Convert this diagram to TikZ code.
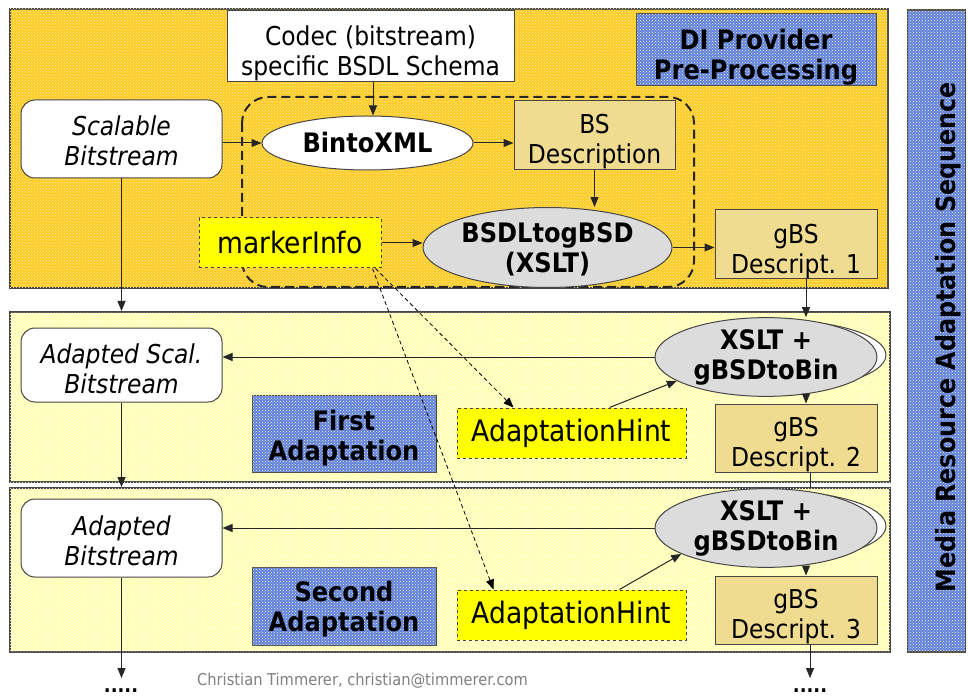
\documentclass[tikz,border=0pt]{standalone}
\usepackage{fontspec}
\setmainfont{DejaVu Sans Condensed}
\usetikzlibrary{shapes.geometric,arrows.meta,calc,patterns}
\definecolor{gold}{RGB}{252,204,40}
\definecolor{lyellow}{RGB}{255,255,180}
\definecolor{bluebox}{RGB}{95,130,228}
\definecolor{tan}{RGB}{240,220,145}
\definecolor{greyell}{RGB}{220,220,220}
\definecolor{hint}{RGB}{255,255,0}
\definecolor{frame}{RGB}{70,70,70}
\definecolor{speck}{RGB}{255,240,170}
\newcommand\fsz{\fontsize{26}{30}\selectfont}
\newcommand\fszb{\fontsize{26.8}{30}\selectfont\bfseries}
\newcommand\lowr[1]{\rule{0pt}{#1pt}}
\tikzset{
  panel/.style={draw=frame,line width=1.5pt},
  tex/.style={postaction={pattern=crosshatch dots,pattern color=#1}},
  wbox/.style={draw=frame,fill=white,line width=1pt,align=center,inner sep=0pt,font=\fsz},
  rbox/.style={wbox,rounded corners=14pt,font=\fsz\itshape},
  tanbox/.style={wbox,fill=tan},
  bluelabel/.style={wbox,fill=bluebox,tex=speck,font=\fszb},
  hintbox/.style={draw=frame,fill=hint,dashed,line width=1pt,align=center,inner sep=0pt,font=\fontsize{29.5}{32}\selectfont},
  ell/.style={ellipse,draw=frame,line width=1pt,inner sep=0pt,align=center,font=\fszb},
  arr/.style={-{Triangle[length=10pt,width=8pt]},line width=1pt,draw=black!85},
  plain/.style={line width=1pt,draw=black!85},
  darr/.style={-{Triangle[length=10pt,width=8pt]},line width=0.8pt,dash pattern=on 4pt off 3pt},
}
\begin{document}
\begin{tikzpicture}[x=1pt,y=-1pt]
\useasboundingbox (0,0) rectangle (968,700);
% panels
\fill[white] (0,0) rectangle (968,700);
\draw[panel,fill=gold,tex=speck] (10,9) rectangle (888,288);
\draw[panel,fill=lyellow,tex=white] (10,312) rectangle (890,482);
\draw[panel,fill=lyellow,tex=white] (10,488) rectangle (890,652);
\node[draw=frame,line width=1.5pt,fill=bluebox,tex=speck,minimum width=58,minimum height=642,inner sep=0pt] (side) at (936.5,331) {};
\node[rotate=90,font=\fontsize{26.5}{28}\selectfont\bfseries] (sidetxt) at (948,337) {Media Resource Adaptation Sequence};
% top panel
\node[wbox,minimum width=287,minimum height=68] (codec) at (370.5,46) {\lowr{35}Codec (bitstream)\\specific BSDL Schema};
\node[bluelabel,minimum width=240,minimum height=61] (di) at (756,49.5) {\lowr{36}DI Provider\\Pre-Processing};
\draw[black!85,line width=2pt,dash pattern=on 9pt off 5pt,rounded corners=26pt] (242,97) rectangle (694,287);
\node[rbox,minimum width=201,minimum height=78] (sb) at (121.5,139) {\lowr{24}Scalable\\Bitstream};
\node[ell,fill=white,minimum width=211,minimum height=54] (bx) at (367.5,143) {BintoXML};
\node[tanbox,minimum width=161,minimum height=69] (bsd) at (594.5,135.5) {\lowr{31}BS\\Description};
\node[hintbox,minimum width=182,minimum height=50] (mi) at (290,243) {markerInfo};
\node[ell,fill=greyell,minimum width=249,minimum height=75] (bsdl) at (547.5,247.5) {\lowr{23}BSDLtogBSD\\(XSLT)};
\node[tanbox,minimum width=162,minimum height=69] (g1) at (796,244.5) {\lowr{33}gBS\\Descript. 1};
% second panel
\node[rbox,minimum width=201,minimum height=74] (asb) at (121.5,365) {\lowr{28}Adapted Scal.\\Bitstream};
\node[ell,fill=white,minimum width=222,minimum height=70] (x1b) at (775,355) {};
\node[ell,fill=greyell,minimum width=222,minimum height=70] (x1) at (766,357) {XSLT +\\gBSDtoBin};
\node[bluelabel,minimum width=184,minimum height=77] (first) at (344,433.5) {\lowr{30}First\\Adaptation};
\node[hintbox,minimum width=229,minimum height=50] (h1) at (571.5,433) {AdaptationHint};
\node[tanbox,minimum width=162,minimum height=68] (g2) at (796,438) {\lowr{32}gBS\\Descript. 2};
% third panel
\node[rbox,minimum width=201,minimum height=78] (ab) at (121.5,538) {\lowr{26}Adapted\\Bitstream};
\node[ell,fill=white,minimum width=222,minimum height=70] (x2b) at (775,526) {};
\node[ell,fill=greyell,minimum width=222,minimum height=70] (x2) at (766,528) {XSLT +\\gBSDtoBin};
\node[bluelabel,minimum width=184,minimum height=78] (second) at (344,606) {\lowr{26}Second\\Adaptation};
\node[hintbox,minimum width=229,minimum height=50] (h2) at (571.5,615) {AdaptationHint};
\node[tanbox,minimum width=162,minimum height=68] (g3) at (796,610) {\lowr{32}gBS\\Descript. 3};
% footer
\node[font=\fontsize{16.3}{18}\selectfont,text=black!50] (foot) at (362.5,681) {Christian Timmerer, christian@timmerer.com};
\node[font=\fontsize{20}{20}\selectfont\bfseries] (dotsl) at (121,691) {.....};
\node[font=\fontsize{20}{20}\selectfont\bfseries] (dotsr) at (810,691) {.....};
\coordinate (p2top) at (121.5,311);
\coordinate (p3top) at (121.5,487);
\coordinate (endl) at (121.5,678);
\coordinate (endr) at (810,678);
% connectors
\draw[arr] ([xshift=5.5pt]bx.north |- codec.south) -- ([xshift=5.5pt]bx.north);
\draw[arr] (sb.east |- bx.west) -- (bx.west);
\draw[arr] (bx.east) -- (bx.east -| bsd.west);
\draw[arr] (bsd.south) -- (bsd.south |- bsdl.north);
\draw[arr] (mi.east) -- (mi.east -| bsdl.west);
\draw[arr] (bsdl.east) -- (bsdl.east -| g1.west);
\draw[arr] ([xshift=10pt]g1.south) -- ([xshift=40pt]x1.north);
\draw[arr] (sb.south) -- (p2top);
\draw[arr] (x1.west) -- (x1.west -| asb.east);
\draw[arr] ([xshift=38pt]h1.north) -- (x1.195);
\draw[arr] ([xshift=40pt]x1.south) -- ([xshift=10pt]g2.north);
\draw[arr] (asb.south) -- (p3top);
\draw[plain] ([xshift=14pt]g2.south) -- ([xshift=44pt]x2.north);
\draw[arr] (x2.west) -- (x2.west -| ab.east);
\draw[arr] ([xshift=48pt]h2.north) -- (x2.197);
\draw[arr] ([xshift=40pt]x2.south) -- ([xshift=10pt]g3.north);
\draw[arr] (ab.south) -- (endl);
\draw[arr] ([xshift=14pt]g3.south) -- (endr);
\draw[darr] ([xshift=-6pt]mi.south east) -- ([xshift=-58pt]h1.north);
\draw[darr] ([xshift=-9pt]mi.south east) -- ([xshift=-78pt]h2.north);
\end{tikzpicture}
\end{document}
